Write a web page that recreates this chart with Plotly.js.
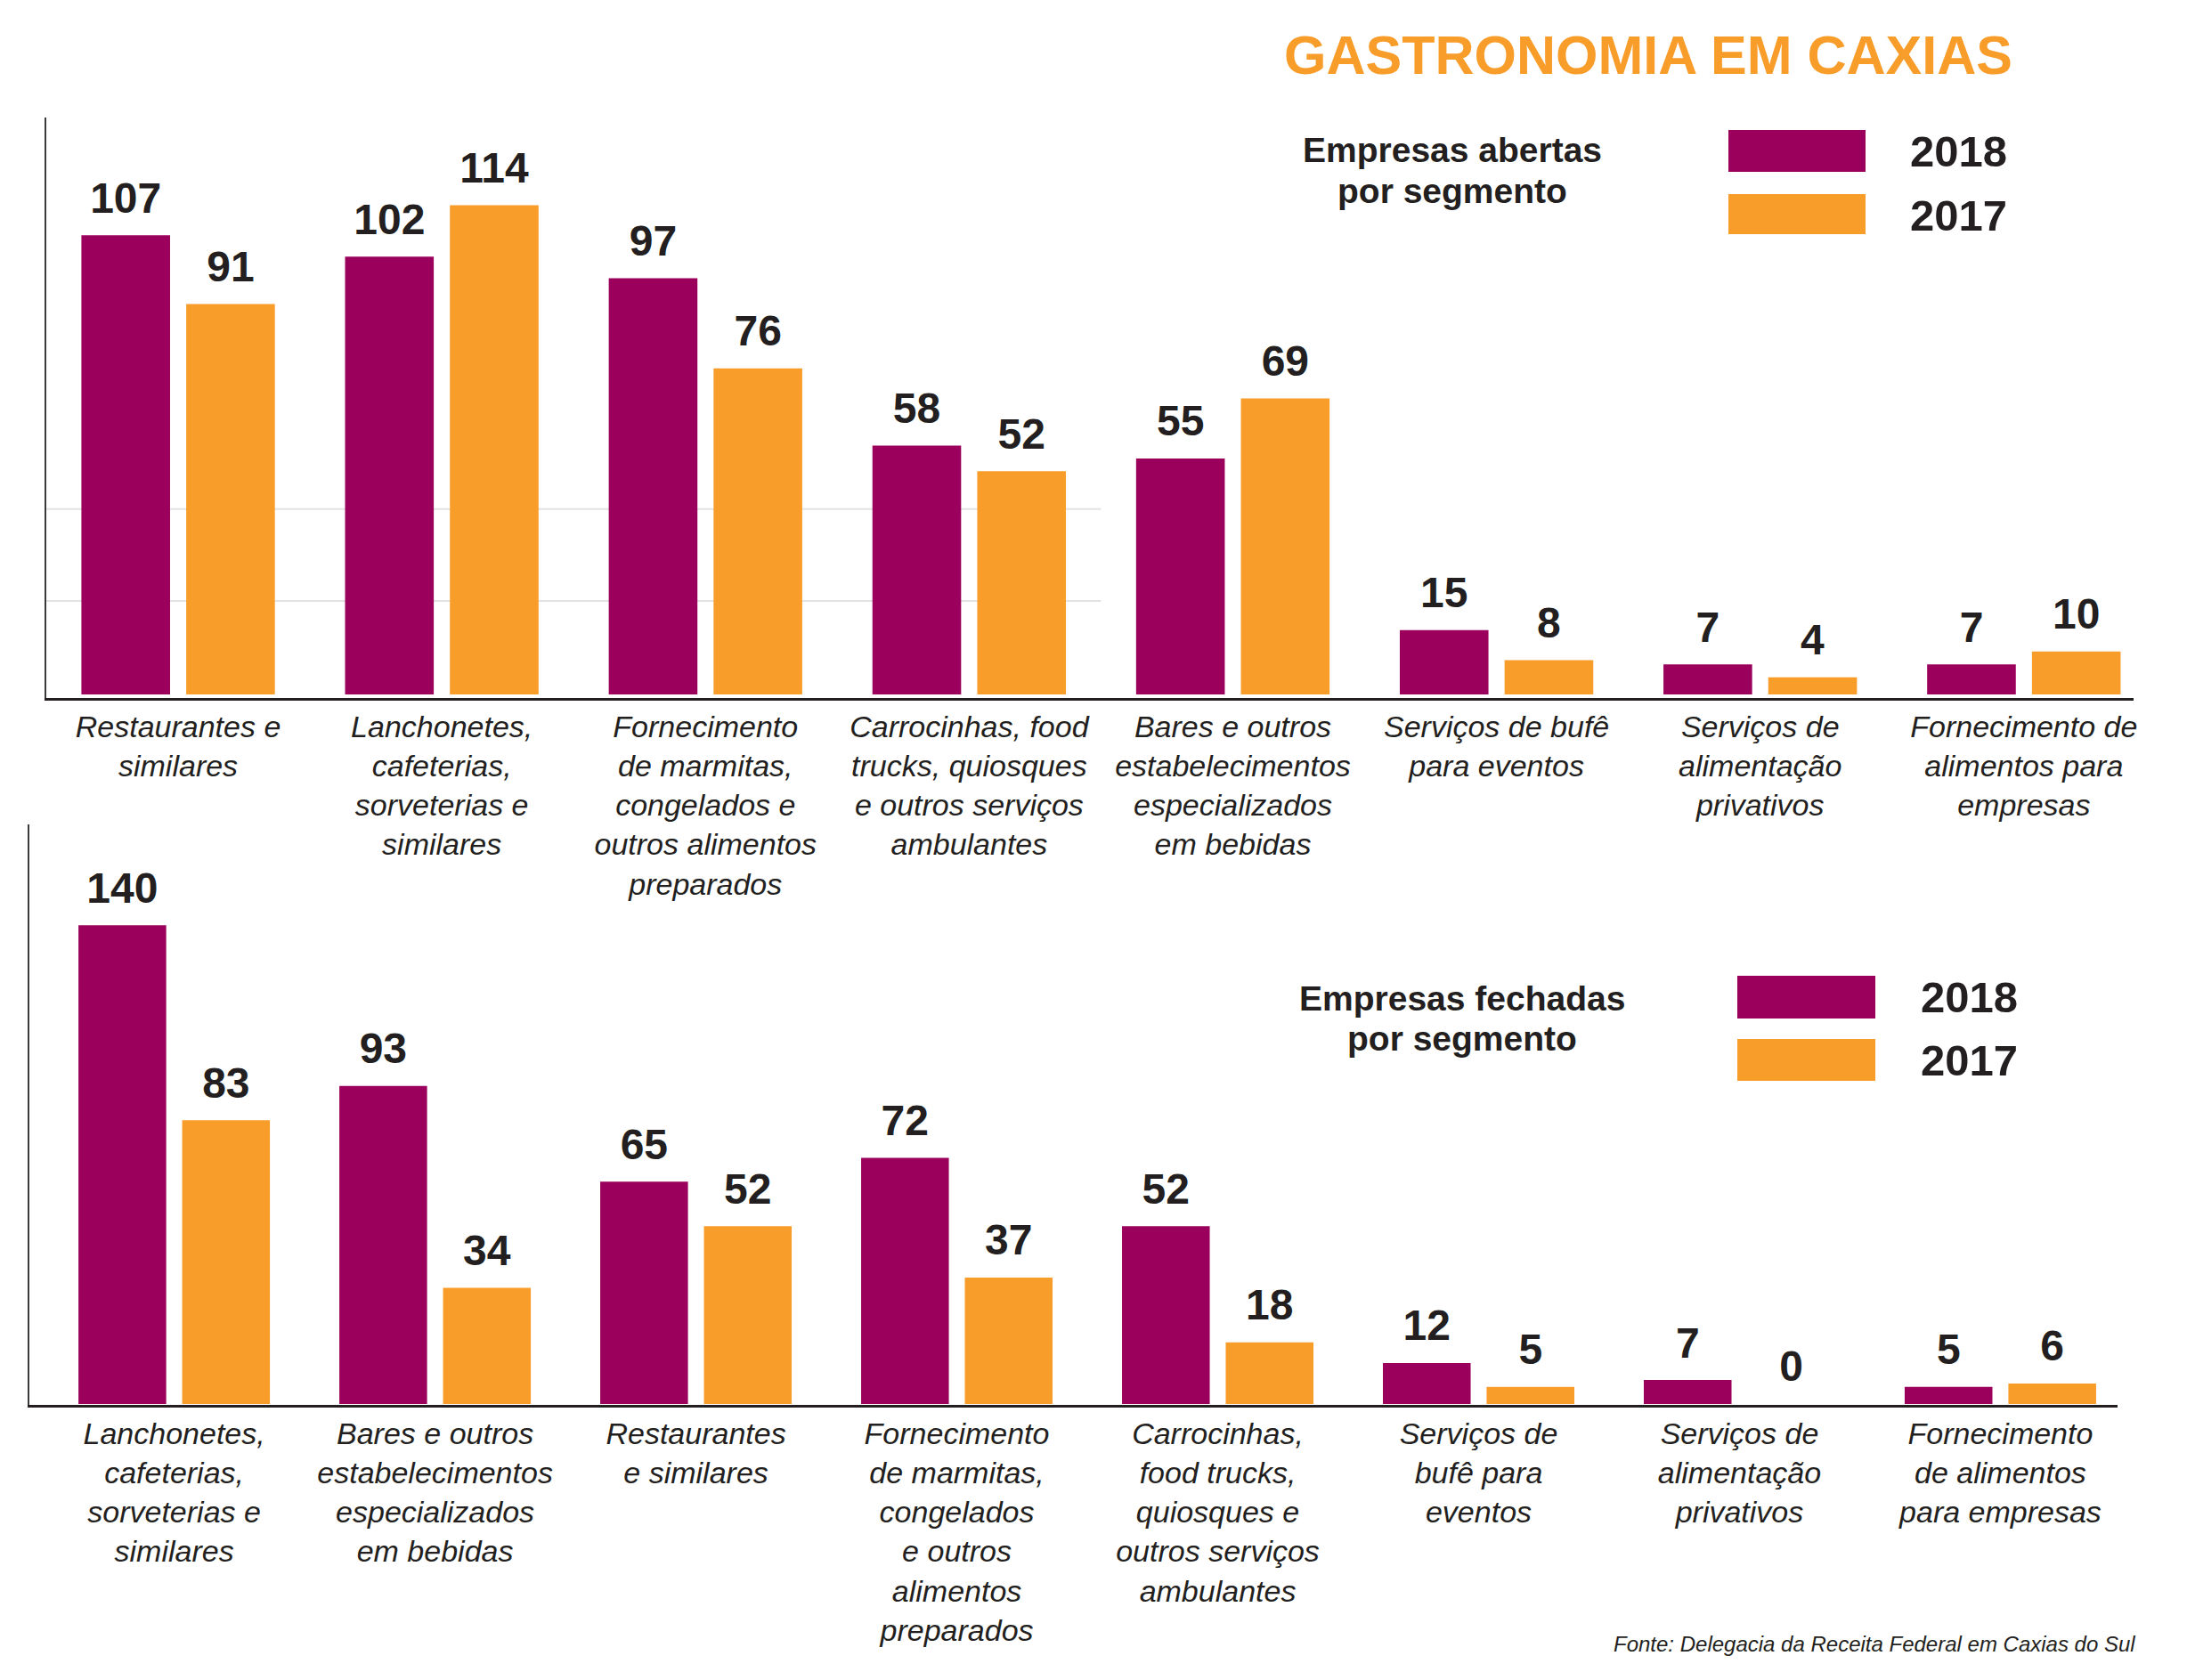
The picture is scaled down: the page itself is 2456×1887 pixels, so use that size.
<!DOCTYPE html>
<html>
<head>
<meta charset="utf-8">
<script src="https://cdn.plot.ly/plotly-3.0.1.min.js"></script>
<style>
html,body{margin:0;padding:0;background:#ffffff;}
#chart{width:2456px;height:1887px;}
</style>
</head>
<body>
<div id="chart"></div>
<script>
// ---------- DATA ----------
const openCategories = [
  "Restaurantes e<br>similares",
  "Lanchonetes,<br>cafeterias,<br>sorveterias e<br>similares",
  "Fornecimento<br>de marmitas,<br>congelados e<br>outros alimentos<br>preparados",
  "Carrocinhas, food<br>trucks, quiosques<br>e outros serviços<br>ambulantes",
  "Bares e outros<br>estabelecimentos<br>especializados<br>em bebidas",
  "Serviços de bufê<br>para eventos",
  "Serviços de<br>alimentação<br>privativos",
  "Fornecimento de<br>alimentos para<br>empresas"
];
const open2018 = [107, 102, 97, 58, 55, 15, 7, 7];
const open2017 = [91, 114, 76, 52, 69, 8, 4, 10];

const closedCategories = [
  "Lanchonetes,<br>cafeterias,<br>sorveterias e<br>similares",
  "Bares e outros<br>estabelecimentos<br>especializados<br>em bebidas",
  "Restaurantes<br>e similares",
  "Fornecimento<br>de marmitas,<br>congelados<br>e outros<br>alimentos<br>preparados",
  "Carrocinhas,<br>food trucks,<br>quiosques e<br>outros serviços<br>ambulantes",
  "Serviços de<br>bufê para<br>eventos",
  "Serviços de<br>alimentação<br>privativos",
  "Fornecimento<br>de alimentos<br>para empresas"
];
const closed2018 = [140, 93, 65, 72, 52, 12, 7, 5];
const closed2017 = [83, 34, 52, 37, 18, 5, 0, 6];

const seriesNames = ["2018", "2017"];
const openGridValues = [21.8, 43.2];

const chartTitle = "GASTRONOMIA EM CAXIAS";
const openTitleLines = ["Empresas abertas", "por segmento"];
const closedTitleLines = ["Empresas fechadas", "por segmento"];
const sourceText = "Fonte: Delegacia da Receita Federal em Caxias do Sul";

// ---------- STYLE ----------
const PURPLE = "#9b005c";
const ORANGE = "#f89c2a";
const INK = "#231f20";
const FONT = "Liberation Sans, Arial, Helvetica, sans-serif";
const W = 2456, H = 1887;
const px = (x) => x / W;
const py = (y) => 1 - y / H;

// label lift (pixels above bar top), converted to axis units per subplot
const labelLiftPx = 12.6;
const openUnitPx = 4.82;
const closedUnitPx = 3.84;

function barTrace(cats, vals, name, color, xa, ya, group) {
  return {
    type: "bar", x: cats, y: vals, name: name,
    xaxis: xa, yaxis: ya, offsetgroup: group,
    marker: { color: color, line: { width: 0 } },
    hoverinfo: "skip", showlegend: false
  };
}
function labelTrace(cats, vals, lift, xa, ya, group) {
  return {
    type: "bar", x: cats, y: vals.map(v => v + lift),
    text: vals.map(v => String(v)),
    textposition: "outside", cliponaxis: false, constraintext: "none",
    textfont: { family: FONT, size: 48, color: INK, weight: 700 },
    xaxis: xa, yaxis: ya, offsetgroup: group,
    marker: { color: "rgba(0,0,0,0)", line: { width: 0 } },
    hoverinfo: "skip", showlegend: false
  };
}

const openLift = labelLiftPx / openUnitPx;
const closedLift = labelLiftPx / closedUnitPx;

const data = [
  barTrace(openCategories, open2018, seriesNames[0], PURPLE, "x", "y", "a"),
  barTrace(openCategories, open2017, seriesNames[1], ORANGE, "x", "y", "b"),
  labelTrace(openCategories, open2018, openLift, "x", "y", "a"),
  labelTrace(openCategories, open2017, openLift, "x", "y", "b"),
  barTrace(closedCategories, closed2018, seriesNames[0], PURPLE, "x2", "y2", "a"),
  barTrace(closedCategories, closed2017, seriesNames[1], ORANGE, "x2", "y2", "b"),
  labelTrace(closedCategories, closed2018, closedLift, "x2", "y2", "a"),
  labelTrace(closedCategories, closed2017, closedLift, "x2", "y2", "b")
];

const tickFont = { family: FONT, size: 34, color: INK, style: "italic", weight: 400 };

function xAxis(domain, anchor, range) {
  return {
    domain: domain, anchor: anchor, type: "category", range: range,
    showline: true, linecolor: INK, linewidth: 3,
    ticks: "", showgrid: false, zeroline: false,
    tickfont: tickFont, fixedrange: true, automargin: false
  };
}
function yAxis(domain, anchor, range) {
  return {
    domain: domain, anchor: anchor, range: range,
    showline: true, linecolor: "#3a3a3a", linewidth: 2,
    ticks: "", showticklabels: false, showgrid: false, zeroline: false,
    fixedrange: true
  };
}

const shapes = [];
openGridValues.forEach(v => {
  shapes.push({
    type: "line", xref: "x", yref: "y", x0: -0.5, x1: 3.5, y0: v, y1: v,
    line: { color: "#e3e3e3", width: 2 }, layer: "below"
  });
});
// legend swatches
function swatch(x0, x1, y0, y1, color) {
  shapes.push({ type: "rect", xref: "paper", yref: "paper",
    x0: px(x0), x1: px(x1), y0: py(y1), y1: py(y0),
    fillcolor: color, line: { width: 0 } });
}
swatch(1941, 2095, 146, 193, PURPLE);
swatch(1941, 2095, 218, 263, ORANGE);
swatch(1951, 2106, 1096, 1144, PURPLE);
swatch(1951, 2106, 1167, 1214, ORANGE);

const boldFont = (size, color) => ({ family: FONT, size: size, color: color || INK, weight: 700 });

function textAt(text, x, y, xanchor, font) {
  return { text: text, xref: "paper", yref: "paper", x: px(x), y: py(y),
    xanchor: xanchor, yanchor: "middle", align: "center", showarrow: false, font: font };
}

const annotations = [
  textAt(chartTitle, 1851, 62, "center", { family: FONT, size: 61, color: ORANGE, weight: 700 }),
  textAt(openTitleLines[0], 1631, 169, "center", boldFont(39)),
  textAt(openTitleLines[1], 1631, 214, "center", boldFont(39)),
  textAt(seriesNames[0], 2143, 170, "left", boldFont(49)),
  textAt(seriesNames[1], 2143, 242, "left", boldFont(49)),
  textAt(closedTitleLines[0], 1642, 1121, "center", boldFont(39)),
  textAt(closedTitleLines[1], 1642, 1166, "center", boldFont(39)),
  textAt(seriesNames[0], 2155, 1120, "left", boldFont(49)),
  textAt(seriesNames[1], 2155, 1191, "left", boldFont(49)),
  textAt(sourceText, 2400, 1846, "right", { family: FONT, size: 24, color: INK, style: "italic" })
];

const layout = {
  width: W, height: H,
  margin: { l: 0, r: 0, t: 0, b: 0, pad: 0 },
  paper_bgcolor: "#ffffff", plot_bgcolor: "rgba(0,0,0,0)",
  barmode: "group", bargap: 0.205, bargroupgap: 0.154,
  showlegend: false, hovermode: false,
  font: { family: FONT, color: INK },
  xaxis: xAxis([px(52), px(2396)], "y", [-0.5, 7.416]),
  yaxis: yAxis([py(784), py(132)], "x", [-0.83, 134.44]),
  xaxis2: xAxis([px(33), px(2378)], "y2", [-0.555, 7.449]),
  yaxis2: yAxis([py(1578), py(926)], "x2", [-0.26, 169.5]),
  shapes: shapes,
  annotations: annotations
};

Plotly.newPlot("chart", data, layout, { displayModeBar: false, staticPlot: true });
</script>
</body>
</html>
